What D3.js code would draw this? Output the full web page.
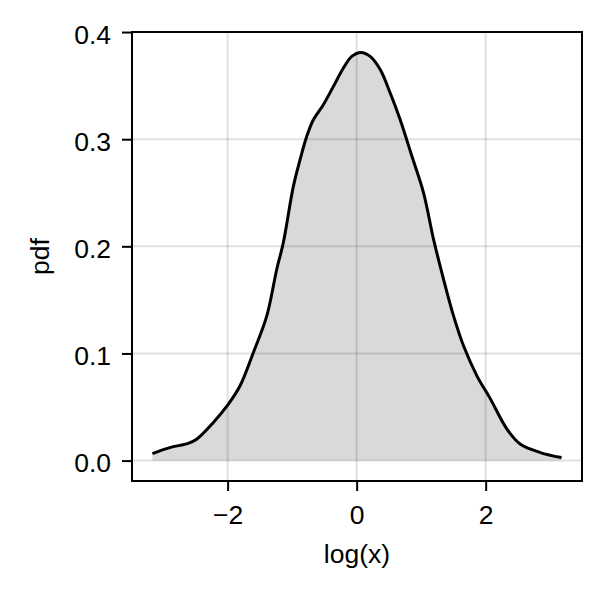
<!DOCTYPE html>
<html>
<head>
<meta charset="utf-8">
<script src="https://cdn.jsdelivr.net/npm/d3@7"></script>
<style>
  html, body { margin: 0; padding: 0; background: #fff; }
  text { font-family: "Liberation Sans", Arial, sans-serif; fill: #000; }
</style>
</head>
<body>
<svg id="chart" width="614" height="600"></svg>
<script>
// Density curve of log(x)
const logX = [-3.165, -2.896, -2.612, -2.481, -2.224, -1.991, -1.809, -1.602, -1.394, -1.239,
  -1.137, -0.981, -0.877, -0.773, -0.671, -0.516, -0.360, -0.205, -0.075, 0.065,
  0.210, 0.365, 0.520, 0.675, 0.857, 1.037, 1.193, 1.348, 1.503, 1.658,
  1.866, 2.073, 2.332, 2.539, 2.849, 3.176];
const pdf = [0.0065, 0.0121, 0.0161, 0.0199, 0.0354, 0.0525, 0.0696, 0.1007, 0.1348, 0.1784,
  0.2033, 0.2560, 0.2809, 0.3027, 0.3182, 0.3322, 0.3493, 0.3664, 0.3773, 0.3810,
  0.3773, 0.3650, 0.3431, 0.3182, 0.2840, 0.2499, 0.2063, 0.1690, 0.1348, 0.1069,
  0.0789, 0.0576, 0.0292, 0.0152, 0.0075, 0.0028];
const xTicks = [-2, 0, 2];
const yTicks = [0.0, 0.1, 0.2, 0.3, 0.4];
const xLabel = "log(x)";
const yLabel = "pdf";

(function () {
const data = logX.map((x, i) => ({x, y: pdf[i]}));
const FS = 26.5;

const mLeft = 132, mRight = 582, mTop = 32, mBottom = 481;
const xMin = d3.min(logX), xMax = d3.max(logX);
const xPad = (xMax - xMin) * 0.05;
const yMax = d3.max(pdf), yPad = yMax * 0.05;

const x = d3.scaleLinear().domain([xMin - xPad, xMax + xPad]).range([mLeft, mRight]);
const y = d3.scaleLinear().domain([-yPad, yMax + yPad]).range([mBottom, mTop]);

const svg = d3.select("#chart");

// grid
const grid = svg.append("g");
grid.selectAll("line.vx").data(xTicks).join("line")
  .attr("x1", d => x(d)).attr("x2", d => x(d)).attr("y1", mTop).attr("y2", mBottom)
  .attr("stroke", "rgba(0,0,0,0.12)").attr("stroke-width", 2);
grid.selectAll("line.hy").data(yTicks).join("line")
  .attr("y1", d => y(d)).attr("y2", d => y(d)).attr("x1", mLeft).attr("x2", mRight)
  .attr("stroke", "rgba(0,0,0,0.12)").attr("stroke-width", 2);

// band
const area = d3.area().x(d => x(d.x)).y0(y(0)).y1(d => y(d.y)).curve(d3.curveCatmullRom.alpha(0.5));
svg.append("path").datum(data).attr("d", area).attr("fill", "rgba(0,0,0,0.15)");

// line
const line = d3.line().x(d => x(d.x)).y(d => y(d.y)).curve(d3.curveCatmullRom.alpha(0.5));
svg.append("path").datum(data).attr("d", line)
  .attr("fill", "none").attr("stroke", "#000").attr("stroke-width", 3)
  .attr("stroke-linejoin", "round");

// axes
const xAxis = d3.axisBottom(x).tickValues(xTicks).tickSize(10).tickPadding(14)
  .tickFormat(d => d < 0 ? "\u2212" + Math.abs(d) : String(d));
const gx = svg.append("g").attr("transform", `translate(0,${mBottom})`).call(xAxis);
gx.select(".domain").remove();
gx.selectAll(".tick line").attr("stroke", "#000").attr("stroke-width", 2);
gx.selectAll(".tick text").attr("font-size", FS).attr("fill", "#000")
  .attr("font-family", "'Liberation Sans', Arial, sans-serif");

const yAxis = d3.axisLeft(y).tickValues(yTicks).tickSize(10).tickPadding(11)
  .tickFormat(d3.format(".1f"));
const gy = svg.append("g").attr("transform", `translate(${mLeft},0)`).call(yAxis);
gy.select(".domain").remove();
gy.selectAll(".tick line").attr("stroke", "#000").attr("stroke-width", 2);
gy.selectAll(".tick text").attr("font-size", FS).attr("fill", "#000").attr("dy", "0.42em")
  .attr("font-family", "'Liberation Sans', Arial, sans-serif");

// frame
svg.append("rect").attr("x", mLeft).attr("y", mTop)
  .attr("width", mRight - mLeft).attr("height", mBottom - mTop)
  .attr("fill", "none").attr("stroke", "#000").attr("stroke-width", 2);

// labels
svg.append("text").attr("x", (mLeft + mRight) / 2).attr("y", 563)
  .attr("text-anchor", "middle").attr("font-size", FS).text(xLabel);
svg.append("text").attr("transform", `translate(49,${(mTop + mBottom) / 2}) rotate(-90)`)
  .attr("text-anchor", "middle").attr("font-size", FS).text(yLabel);
})();
</script>
</body>
</html>
